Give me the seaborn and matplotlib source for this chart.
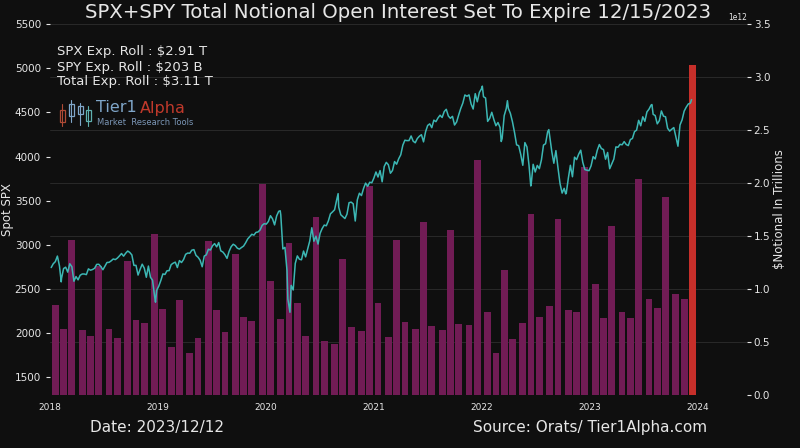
import pandas as pd
import matplotlib.pyplot as plt
from matplotlib.patches import Rectangle
from matplotlib.lines import Line2D
import seaborn as sns

# monthly expirations (3rd Friday), notional in trillions
exp_dates = pd.date_range("2018-01-01", "2023-12-31", freq="WOM-3FRI")
notional_2018 = [0.85, 0.62, 1.46, 0.61, 0.56, 1.22, 0.62, 0.54, 1.26, 0.71, 0.68, 1.52]
notional_2019 = [0.81, 0.45, 0.90, 0.40, 0.54, 1.45, 0.80, 0.59, 1.33, 0.74, 0.70, 1.99]
notional_2020 = [1.08, 0.72, 1.43, 0.87, 0.56, 1.68, 0.51, 0.48, 1.28, 0.64, 0.60, 1.97]
notional_2021 = [0.87, 0.55, 1.46, 0.69, 0.62, 1.63, 0.65, 0.61, 1.56, 0.67, 0.66, 2.22]
notional_2022 = [0.78, 0.40, 1.18, 0.53, 0.68, 1.71, 0.74, 0.84, 1.66, 0.80, 0.78, 2.15]
notional_2023 = [1.05, 0.73, 1.59, 0.78, 0.73, 2.04, 0.91, 0.82, 1.87, 0.95, 0.91, 3.11]

# SPX weekly closes (Fridays)
spx_2018 = [2743, 2786, 2810, 2873, 2762, 2620, 2732, 2747, 2691, 2786, 2752, 2588, 2641,
            2604, 2656, 2670, 2670, 2663, 2728, 2713, 2721, 2735, 2779, 2780, 2755, 2718,
            2760, 2801, 2802, 2819, 2840, 2833, 2850, 2875, 2902, 2872, 2905, 2930, 2914,
            2886, 2767, 2768, 2658, 2723, 2781, 2736, 2633, 2760, 2633, 2600, 2417, 2486]
spx_2019 = [2532, 2596, 2671, 2665, 2707, 2708, 2776, 2793, 2804, 2743, 2822, 2800, 2834,
            2893, 2907, 2905, 2940, 2946, 2881, 2860, 2826, 2752, 2873, 2887, 2950, 2942,
            2990, 3014, 2977, 3026, 2932, 2919, 2889, 2847, 2926, 2979, 3007, 2992, 2962,
            2952, 2970, 2986, 3023, 3067, 3093, 3120, 3110, 3141, 3146, 3169, 3221, 3240]
spx_2020 = [3235, 3265, 3330, 3295, 3226, 3328, 3380, 3338, 2954, 2972, 2711, 2305, 2541,
            2489, 2790, 2875, 2837, 2831, 2930, 2864, 2955, 3044, 3194, 3041, 3098, 3009,
            3130, 3185, 3224, 3216, 3271, 3351, 3373, 3397, 3508, 3427, 3341, 3319, 3298,
            3348, 3477, 3484, 3465, 3270, 3510, 3585, 3558, 3638, 3699, 3663, 3709, 3703]
spx_2021 = [3756, 3825, 3768, 3841, 3714, 3887, 3934, 3907, 3811, 3842, 3943, 3913, 3975,
            4020, 4129, 4185, 4180, 4181, 4233, 4174, 4156, 4204, 4230, 4247, 4166, 4281,
            4352, 4370, 4327, 4412, 4395, 4437, 4468, 4442, 4509, 4535, 4459, 4433, 4455,
            4357, 4391, 4471, 4545, 4605, 4697, 4683, 4698, 4595, 4538, 4712, 4620, 4726, 4766]
spx_2022 = [4677, 4663, 4398, 4432, 4501, 4419, 4349, 4385, 4329, 4204, 4463, 4543,
            4546, 4488, 4393, 4272, 4132, 4123, 4024, 3901, 4158, 4109, 3901, 3675, 3912,
            3825, 3899, 3863, 3962, 4130, 4145, 4280, 4228, 4058, 3924, 4067, 3873, 3693, 3586,
            3640, 3583, 3753, 3901, 3771, 3993, 3965, 4026, 4072, 3934, 3852, 3845, 3840]
spx_2023 = [3895, 3999, 3973, 4071, 4136, 4090, 4079, 3970, 4046, 3862, 3917, 3971, 4109,
            4105, 4138, 4133, 4169, 4136, 4124, 4192, 4205, 4282, 4299, 4410, 4348, 4450,
            4399, 4505, 4536, 4582, 4478, 4464, 4370, 4406, 4516, 4457, 4450, 4320, 4288,
            4309, 4328, 4224, 4117, 4358, 4415, 4514, 4559, 4595, 4604]
# intraweek extremes
extra_dates = ["2018-02-08", "2018-12-24", "2020-02-19", "2020-03-16", "2020-03-23",
               "2020-09-02", "2022-01-03", "2022-03-08", "2022-03-29", "2022-06-16",
               "2022-08-16", "2022-10-12", "2023-07-31", "2023-12-12"]
extra_vals = [2581, 2351, 3386, 2386, 2237, 3580, 4797, 4170, 4632, 3667, 4305, 3577, 4589, 4644]

notional = (notional_2018 + notional_2019 + notional_2020 + notional_2021
            + notional_2022 + notional_2023)
bars = pd.DataFrame({"date": exp_dates, "notional": [v * 1e12 for v in notional]})

frames = []
for yr, vals in zip(range(2018, 2024), [spx_2018, spx_2019, spx_2020, spx_2021, spx_2022, spx_2023]):
    d = pd.date_range(f"{yr}-01-01", f"{yr}-12-31", freq="W-FRI")[:len(vals)]
    frames.append(pd.DataFrame({"date": d, "spx": vals}))
frames.append(pd.DataFrame({"date": pd.to_datetime(extra_dates), "spx": extra_vals}))
spx = pd.concat(frames).sort_values("date").reset_index(drop=True)

sns.set_theme(style="dark")
plt.rcParams["font.family"] = ["DejaVu Sans"]

bg = "#0f0f0f"
txt = "#e6e6e6"
fig = plt.figure(figsize=(8, 4.48), dpi=100, facecolor=bg)
ax = fig.add_axes([0.0625, 0.1183, 0.871, 0.828], facecolor=bg)

colors = ["#711c55"] * (len(bars) - 1) + ["#c62f2a"]
ax.bar(bars["date"], bars["notional"], width=23, color=colors, edgecolor="none",
       linewidth=0, zorder=2)
ax.set_ylim(0, 3.5e12)
ax.set_yticks([0, 0.5e12, 1e12, 1.5e12, 2e12, 2.5e12, 3e12, 3.5e12])
ax.grid(axis="y", color="#2e2e2e", lw=0.6)
ax.grid(axis="x", visible=False)

ax2 = ax.twinx()
sns.lineplot(data=spx, x="date", y="spx", ax=ax2, color="#3cb7b4", lw=1.1, zorder=3)
ax2.set_ylim(1300, 5500)
ax2.set_yticks(range(1500, 5501, 500))
ax2.set_xlabel("")
ax2.grid(False)

# bars read on the right, SPX on the left
ax.yaxis.tick_right()
ax.yaxis.set_label_position("right")
ax.yaxis.set_offset_position("right")
ax2.yaxis.tick_left()
ax2.yaxis.set_label_position("left")
ax.set_ylabel(r"\$Notional In Trillions", color=txt, fontsize=8.5)
ax2.set_ylabel("Spot SPX", color=txt, fontsize=8.5)
ax.yaxis.set_label_coords(1.038, 0.5)
ax2.yaxis.set_label_coords(-0.052, 0.5)
ax.yaxis.get_offset_text().set_color(txt)
ax.yaxis.get_offset_text().set_fontsize(5.5)

ax.set_xlim(pd.Timestamp("2018-01-01"), pd.Timestamp("2024-06-16"))
ax.set_xticks(pd.to_datetime([f"{y}-01-01" for y in range(2018, 2025)]))
ax.set_xticklabels([str(y) for y in range(2018, 2025)])
ax.set_xlabel("")

for a in (ax, ax2):
    for s in a.spines.values():
        s.set_visible(False)
    a.tick_params(colors=txt, labelcolor=txt, length=3, width=0.8, labelsize=7.5)
ax.tick_params(axis="x", labelsize=6.5, length=2.5, pad=3)
ax.tick_params(axis="y", pad=2)
ax2.tick_params(axis="x", bottom=False, labelbottom=False)

def px(x, y):
    return x / 800, 1 - y / 448

fig.text(*px(398, 13), "SPX+SPY Total Notional Open Interest Set To Expire 12/15/2023",
         ha="center", va="center", color=txt, fontsize=14.2)
fig.text(*px(57, 52), r"SPX Exp. Roll : \$2.91 T", color=txt, fontsize=9.5, va="center")
fig.text(*px(57, 67), r"SPY Exp. Roll : \$203 B", color=txt, fontsize=9.5, va="center")
fig.text(*px(57, 82), r"Total Exp. Roll : \$3.11 T", color=txt, fontsize=9.5, va="center")

# Tier1 Alpha logo
fig.text(*px(96, 108), "Tier1", color="#7fa6c9", fontsize=11.5, va="center")
fig.text(*px(140, 108), "Alpha", color="#c0392b", fontsize=11.5, va="center")
fig.text(*px(97, 122), "Market  Research Tools", color="#7a95b5", fontsize=6, va="center")
candles = [(62, 104, 126, 110, 122, "#b04a35"), (71, 100, 122, 104, 116, "#7fa6c9"),
           (80, 103, 125, 106, 114, "#7fa6c9"), (88, 106, 126, 110, 121, "#5fb0b0")]
for cx, wl, wh, bl, bh, c in candles:
    fig.add_artist(Line2D([cx / 800, cx / 800], [1 - wl / 448, 1 - wh / 448], color=c, lw=0.8))
    x0, y0 = px(cx - 2.5, bh)
    fig.add_artist(Rectangle((x0, y0), 5 / 800, (bh - bl) / 448, facecolor=bg,
                             edgecolor=c, lw=0.9))

fig.text(*px(90, 427), "Date: 2023/12/12", color=txt, fontsize=11, va="center")
fig.text(*px(707, 427), "Source: Orats/ Tier1Alpha.com", color=txt, fontsize=11,
         va="center", ha="right")

fig.savefig("out.png", dpi=100, facecolor=bg)
